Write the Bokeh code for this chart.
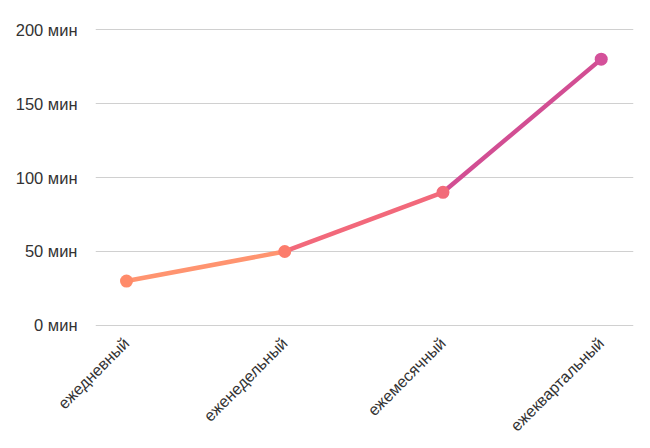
import math
from bokeh.plotting import figure
from bokeh.models import FixedTicker, Range1d
from bokeh.embed import file_html
from bokeh.resources import INLINE

categories = ["ежедневный", "еженедельный", "ежемесячный", "ежеквартальный"]
minutes = [30, 50, 90, 180]
y_ticks = [0, 50, 100, 150, 200]
segment_colors = ["#FF9470", "#F2697B", "#D24E93"]
point_colors = ["#FF8B6A", "#FC7C6C", "#F26B79", "#D4519A"]

xs = list(range(len(categories)))

p = figure(width=642, height=448, output_backend="svg", toolbar_location=None,
           x_range=Range1d(-0.196, 3.204), y_range=Range1d(-0.7, 200.7),
           min_border_left=95, min_border_right=9, min_border_top=28, min_border_bottom=122)
p.outline_line_color = None

p.segment(x0=xs[:-1], y0=minutes[:-1], x1=xs[1:], y1=minutes[1:],
          line_color=segment_colors, line_width=4.5)
p.scatter(x=xs, y=minutes, size=13, fill_color=point_colors, line_color=None)

p.xaxis.ticker = FixedTicker(ticks=xs)
p.xaxis.major_label_overrides = {i: c for i, c in enumerate(categories)}
p.xaxis.major_label_orientation = math.pi / 4
p.xaxis.axis_line_color = None
p.xaxis.major_tick_line_color = None
p.xaxis.minor_tick_line_color = None
p.xaxis.major_label_text_font = "Liberation Sans"
p.xaxis.major_label_text_font_size = "16px"
p.xaxis.major_label_text_color = "#333333"
p.xaxis.major_label_standoff = 8

p.yaxis.ticker = FixedTicker(ticks=y_ticks)
p.yaxis.major_label_overrides = {v: f"{v} мин" for v in y_ticks}
p.yaxis.axis_line_color = None
p.yaxis.major_tick_line_color = None
p.yaxis.minor_tick_line_color = None
p.yaxis.major_label_text_font = "Liberation Sans"
p.yaxis.major_label_text_font_size = "16.5px"
p.yaxis.major_label_text_color = "#333333"
p.yaxis.major_label_standoff = 12

p.xgrid.grid_line_color = None
p.ygrid.grid_line_color = "#d0d0d0"
p.ygrid.grid_line_width = 1

open("out.html", "w").write(file_html(p, INLINE))
